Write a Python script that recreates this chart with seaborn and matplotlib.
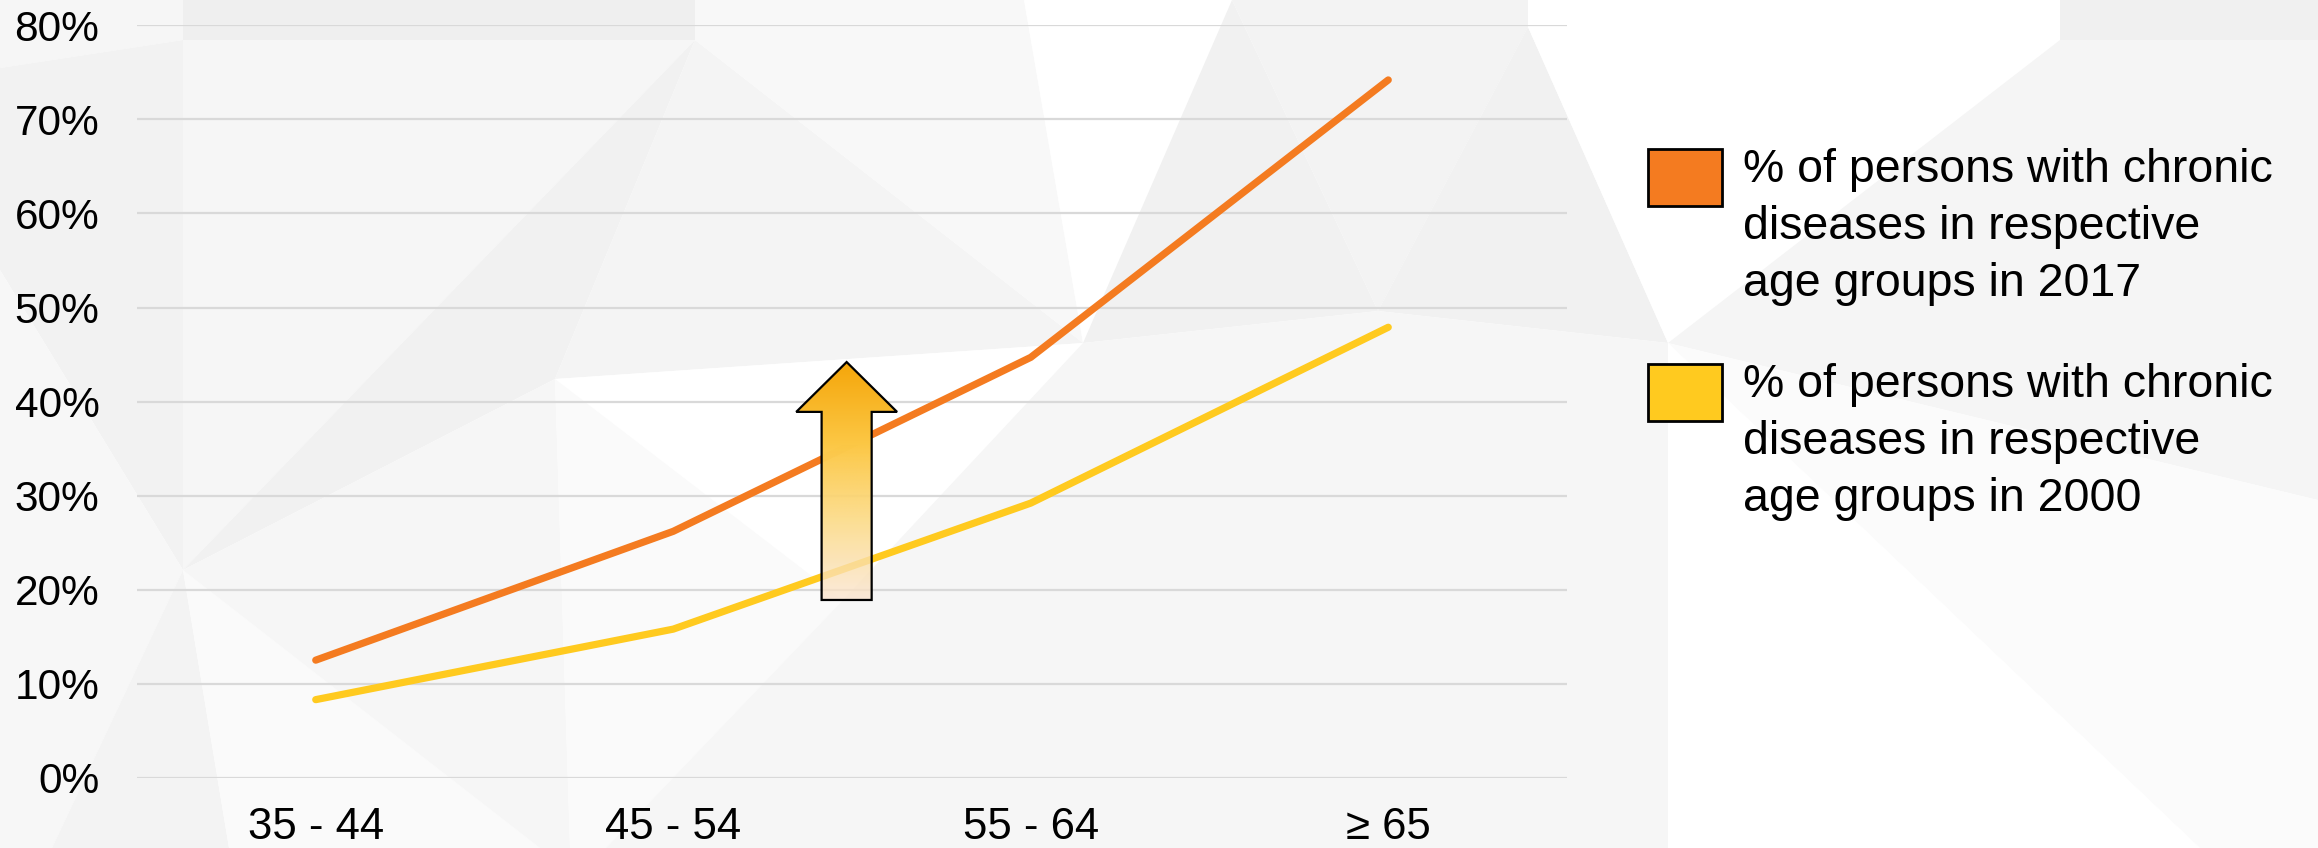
import numpy as np
import pandas as pd
import matplotlib
matplotlib.use("Agg")
import matplotlib.pyplot as plt
import seaborn as sns
from matplotlib.patches import Polygon, Rectangle

# ---------------- data ----------------
age_groups = ["35 - 44", "45 - 54", "55 - 64", "\u2265 65"]
share_2017 = [0.125, 0.262, 0.447, 0.742]
share_2000 = [0.083, 0.158, 0.292, 0.479]
series_labels = [
    "% of persons with chronic\ndiseases in respective\nage groups in 2017",
    "% of persons with chronic\ndiseases in respective\nage groups in 2000",
]
y_ticks = [0.0, 0.1, 0.2, 0.3, 0.4, 0.5, 0.6, 0.7, 0.8]
y_tick_labels = ["0%", "10%", "20%", "30%", "40%", "50%", "60%", "70%", "80%"]

ORANGE = "#F47B20"
YELLOW = "#FFCA1F"

sns.set_theme(style="white")
plt.rcParams["font.family"] = ["Liberation Sans", "DejaVu Sans"]

W, H = 2318, 848
fig = plt.figure(figsize=(W / 100, H / 100), dpi=100)
fig.patch.set_facecolor("white")

# ---------------- low-poly background ----------------
bg = fig.add_axes([0, 0, 1, 1], zorder=-10)
bg.set_xlim(0, W)
bg.set_ylim(H, 0)
bg.axis("off")
bg_polys = [
    ([(183, 0), (695, 0), (695, 40), (183, 40)], "#EFEFEF"),
    ([(0, 0), (183, 0), (183, 40), (0, 68)], "#F6F6F6"),
    ([(0, 68), (183, 40), (183, 570), (0, 270)], "#F2F2F2"),
    ([(0, 270), (183, 570), (52, 848), (0, 848)], "#F7F7F7"),
    ([(52, 848), (183, 570), (229, 848)], "#F3F3F3"),
    ([(183, 570), (229, 848), (540, 848)], "#FAFAFA"),
    ([(183, 40), (695, 40), (183, 570)], "#F6F6F6"),
    ([(695, 40), (555, 379), (183, 570)], "#F1F1F1"),
    ([(183, 570), (555, 379), (570, 848), (540, 848)], "#F6F6F6"),
    ([(695, 40), (1083, 343), (555, 379)], "#F4F4F4"),
    ([(555, 379), (1083, 343), (843, 600)], "#FFFFFF"),
    ([(555, 379), (843, 600), (606, 848), (570, 848)], "#FAFAFA"),
    ([(843, 600), (1083, 343), (1083, 848), (606, 848)], "#F6F6F6"),
    ([(695, 0), (1024, 0), (1083, 343), (695, 40)], "#F8F8F8"),
    ([(1024, 0), (1232, 0), (1083, 343)], "#FFFFFF"),
    ([(1232, 0), (1378, 311), (1083, 343)], "#F1F1F1"),
    ([(1232, 0), (1528, 0), (1528, 27), (1378, 311)], "#F3F3F3"),
    ([(1083, 343), (1378, 311), (1378, 848), (1083, 848)], "#F6F6F6"),
    ([(1378, 311), (1528, 27), (1668, 343)], "#F1F1F1"),
    ([(1378, 311), (1668, 343), (1668, 848), (1378, 848)], "#F6F6F6"),
    ([(1528, 0), (2060, 0), (2060, 40), (1668, 343), (1528, 27)], "#FFFFFF"),
    ([(2060, 0), (2318, 0), (2318, 40), (2060, 40)], "#F0F0F0"),
    ([(1668, 343), (2060, 40), (2318, 40), (2318, 500)], "#F5F5F5"),
    ([(1668, 343), (2318, 500), (2318, 848), (2200, 848)], "#FBFBFB"),
    ([(1668, 343), (2200, 848), (1668, 848)], "#FFFFFF"),
]
for pts, col in bg_polys:
    bg.add_patch(Polygon(pts, closed=True, facecolor=col, edgecolor="none"))

# ---------------- main axes ----------------
ax_left = 137 / W
ax_right = 1567 / W
ax_bottom = 1 - 777.7 / H
ax_top = 1 - 25.4 / H
ax = fig.add_axes([ax_left, ax_bottom, ax_right - ax_left, ax_top - ax_bottom])
ax.set_facecolor("none")

df = pd.DataFrame({
    "age": age_groups * 2,
    "share": share_2017 + share_2000,
    "series": [series_labels[0]] * len(age_groups) + [series_labels[1]] * len(age_groups),
})
sns.lineplot(data=df, x="age", y="share", hue="series", sort=False,
             palette=[ORANGE, YELLOW], linewidth=5.2, legend=False, ax=ax,
             solid_capstyle="round", zorder=3)

ax.set_xlim(-0.5, len(age_groups) - 0.5)
ax.set_ylim(0, 0.8)
ax.set_yticks(y_ticks)
ax.set_yticklabels(y_tick_labels)
ax.set_xlabel("")
ax.set_ylabel("")
for s in ax.spines.values():
    s.set_visible(False)
ax.grid(axis="y", color="#D9D9D9", linewidth=1.6, zorder=0)
ax.grid(axis="x", visible=False)
ax.set_axisbelow(True)
ax.tick_params(axis="y", length=0, pad=27, labelsize=30.5, labelcolor="black")
ax.tick_params(axis="x", length=0, pad=21, labelsize=31.5, labelcolor="black")

# ---------------- gradient arrow ----------------
xc = 1.485
shaft_hw = 0.07
head_hw = 0.141
y_bot, y_base, y_tip = 0.189, 0.389, 0.442
arrow_pts = [
    (xc - shaft_hw, y_bot), (xc + shaft_hw, y_bot), (xc + shaft_hw, y_base),
    (xc + head_hw, y_base), (xc, y_tip), (xc - head_hw, y_base),
    (xc - shaft_hw, y_base),
]
n = 256
t = np.linspace(0, 1, n)  # 0 bottom -> 1 top
stops = np.array([0.0, 0.35, 0.65, 1.0])
cols = np.array([
    [250 / 255, 228 / 255, 205 / 255, 0.75],
    [252 / 255, 218 / 255, 130 / 255, 0.9],
    [252 / 255, 200 / 255, 70 / 255, 1.0],
    [245 / 255, 166 / 255, 10 / 255, 1.0],
])
grad = np.stack([np.interp(t, stops, cols[:, k]) for k in range(4)], axis=1)
img = np.repeat(grad[:, None, :], 2, axis=1)
im = ax.imshow(img, extent=[xc - head_hw, xc + head_hw, y_bot, y_tip],
               origin="lower", aspect="auto", zorder=5, interpolation="bilinear")
clip = Polygon(arrow_pts, closed=True, transform=ax.transData, facecolor="none")
im.set_clip_path(clip)
ax.add_patch(Polygon(arrow_pts, closed=True, facecolor="none",
                     edgecolor="black", linewidth=1.6, zorder=6, joinstyle="miter"))
ax.set_xlim(-0.5, len(age_groups) - 0.5)
ax.set_ylim(0, 0.8)

# ---------------- legend (manual) ----------------
box_w, box_h = 74, 57
box_x = 1648
box_tops = [149, 364]
first_baselines = [183, 398]
line_step = 56.7
text_x = 1743
for top, base, col, lab in zip(box_tops, first_baselines, [ORANGE, YELLOW], series_labels):
    fig.patches.append(Rectangle((box_x / W, 1 - (top + box_h) / H), box_w / W, box_h / H,
                                 transform=fig.transFigure, facecolor=col,
                                 edgecolor="black", linewidth=2.0, zorder=5))
    n_lines = lab.count("\n")
    last_base = base + n_lines * line_step
    fig.text(text_x / W, 1 - last_base / H, lab, ha="left", va="baseline",
             fontsize=33.5, color="black", linespacing=1.39)

fig.savefig("out.png", dpi=100)
